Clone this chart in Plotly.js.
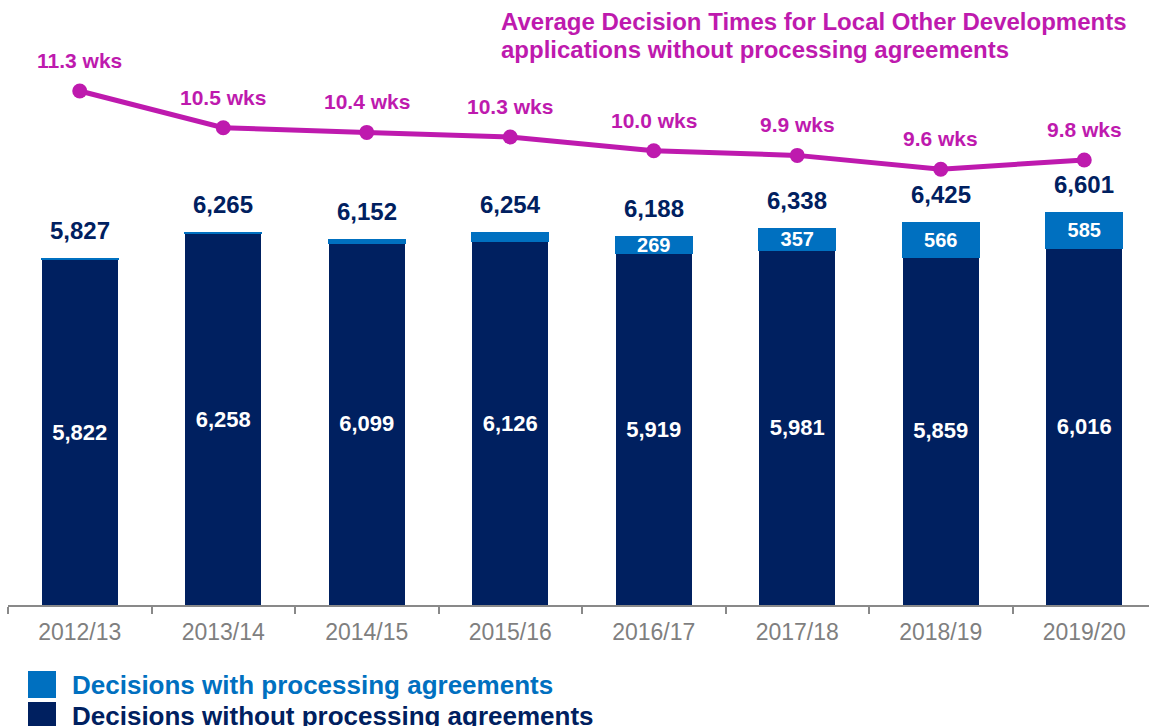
<!DOCTYPE html>
<html>
<head>
<meta charset="utf-8">
<script src="https://cdn.plot.ly/plotly-3.0.1.min.js"></script>
<style>html,body{margin:0;padding:0;background:#fff;}#chart{width:1149px;height:726px;}</style>
</head>
<body>
<div id="chart"></div>
<script>
const categories = ['2012/13','2013/14','2014/15','2015/16','2016/17','2017/18','2018/19','2019/20'];
const withoutAgreements = [5822,6258,6099,6126,5919,5981,5859,6016];
const withAgreements = [5,7,53,128,269,357,566,585];
const totals = [5827,6265,6152,6254,6188,6338,6425,6601];
const avgWeeks = [11.3,10.5,10.4,10.3,10.0,9.9,9.6,9.8];
const weekLabels = ['11.3 wks','10.5 wks','10.4 wks','10.3 wks','10.0 wks','9.9 wks','9.6 wks','9.8 wks'];
const withAgreementLabels = ['','','','','269','357','566','585'];
const titleLines = ['Average Decision Times for Local Other Developments','applications without processing agreements'];
const legendNames = ['Decisions with processing agreements','Decisions without processing agreements'];

const NAVY = '#002060', BLUE = '#0070C0', MAG = '#BE1AAE', GREY = '#7F7F7F';
const FONT = 'Liberation Sans, Arial, sans-serif';
const W = 1149, H = 726, ML = 8, MR = 0, MT = 20, MB = 121;
const PW = W - ML - MR, PH = H - MT - MB;
const px2x = p => (p - ML) / PW;
const px2y = p => (H - MB - p) / PH;

const traces = [
  {
    type: 'bar', x: categories, y: withoutAgreements, name: legendNames[1],
    marker: {color: NAVY},
    texttemplate: '%{y:,}', textposition: 'inside', insidetextanchor: 'middle',
    textfont: {family: FONT, size: 22, color: '#FFFFFF', weight: 'bold'},
    constraintext: 'none', hoverinfo: 'skip'
  },
  {
    type: 'bar', x: categories, y: withAgreements, name: legendNames[0],
    marker: {color: BLUE, line: {color: BLUE, width: 2}},
    text: withAgreementLabels, textposition: 'inside', insidetextanchor: 'middle',
    textfont: {family: FONT, size: 20, color: '#FFFFFF', weight: 'bold'},
    constraintext: 'none', hoverinfo: 'skip'
  },
  {
    type: 'scatter', mode: 'lines+markers', x: categories, y: avgWeeks, yaxis: 'y2',
    line: {color: MAG, width: 5}, marker: {color: MAG, size: 15},
    hoverinfo: 'skip'
  }
];

const annotations = [];
categories.forEach((c, i) => {
  annotations.push({
    x: c, y: totals[i], xref: 'x', yref: 'y', text: totals[i].toLocaleString('en-GB'),
    showarrow: false, yanchor: 'bottom', yshift: 13,
    font: {family: FONT, size: 24, color: NAVY, weight: 'bold'}
  });
  annotations.push({
    x: c, y: avgWeeks[i], xref: 'x', yref: 'y2', text: weekLabels[i],
    showarrow: false, yanchor: 'bottom', yshift: 17,
    font: {family: FONT, size: 21, color: MAG, weight: 'bold'}
  });
});
annotations.push({
  xref: 'paper', yref: 'paper', x: px2x(499), y: px2y(22), xanchor: 'left', yanchor: 'middle',
  align: 'left', showarrow: false, text: titleLines[0],
  font: {family: FONT, size: 24, color: MAG, weight: 'bold'}
});
annotations.push({
  xref: 'paper', yref: 'paper', x: px2x(499), y: px2y(49), xanchor: 'left', yanchor: 'middle',
  align: 'left', showarrow: false, text: titleLines[1],
  font: {family: FONT, size: 24, color: MAG, weight: 'bold'}
});
annotations.push({
  xref: 'paper', yref: 'paper', x: px2x(70), y: px2y(685), xanchor: 'left', yanchor: 'middle',
  showarrow: false, text: legendNames[0], font: {family: FONT, size: 26, color: BLUE, weight: 'bold'}
});
annotations.push({
  xref: 'paper', yref: 'paper', x: px2x(70), y: px2y(716), xanchor: 'left', yanchor: 'middle',
  showarrow: false, text: legendNames[1], font: {family: FONT, size: 26, color: NAVY, weight: 'bold'}
});

const shapes = [
  {type: 'rect', xref: 'paper', yref: 'paper', x0: px2x(28), x1: px2x(56), y0: px2y(671), y1: px2y(698), fillcolor: BLUE, line: {width: 0}},
  {type: 'rect', xref: 'paper', yref: 'paper', x0: px2x(28), x1: px2x(56), y0: px2y(702), y1: px2y(729), fillcolor: NAVY, line: {width: 0}}
];

const layout = {
  width: W, height: H,
  margin: {l: ML, r: MR, t: MT, b: MB, pad: 0},
  paper_bgcolor: '#FFFFFF', plot_bgcolor: '#FFFFFF',
  barmode: 'stack', bargap: 0.47, showlegend: false,
  xaxis: {
    type: 'category', range: [-0.5, -0.5 + PW / 143.5],
    showline: true, linecolor: '#898989', linewidth: 2,
    ticks: 'outside', tickson: 'boundaries', ticklen: 7, tickwidth: 2, tickcolor: '#898989',
    tickfont: {family: FONT, size: 23, color: GREY}, ticklabelstandoff: 5,
    showgrid: false, zeroline: false, fixedrange: true
  },
  yaxis: {range: [0, 9848], visible: false, fixedrange: true},
  yaxis2: {range: [0.126, 12.843], overlaying: 'y', visible: false, fixedrange: true},
  annotations: annotations, shapes: shapes,
  font: {family: FONT}
};

Plotly.newPlot('chart', traces, layout, {displayModeBar: false, staticPlot: true});
</script>
</body>
</html>
